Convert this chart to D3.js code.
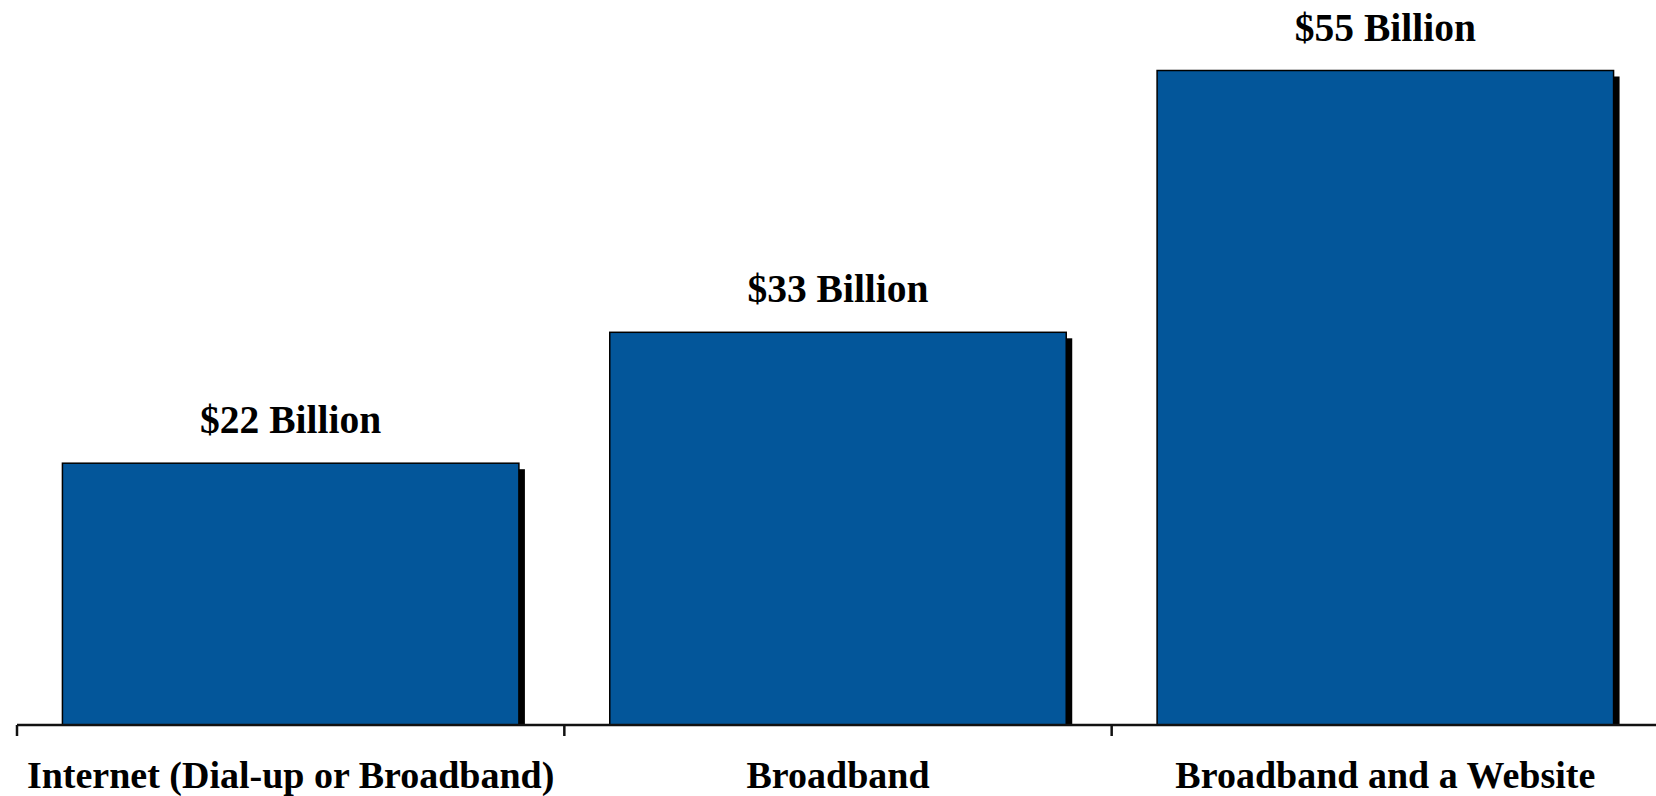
<!DOCTYPE html>
<html>
<head>
<meta charset="utf-8">
<script src="https://cdn.jsdelivr.net/npm/d3@7"></script>
<style>
  html, body { margin: 0; padding: 0; background: #ffffff; }
  svg { display: block; }
</style>
</head>
<body>
<svg id="chart" width="1656" height="796"></svg>
<script>
const categories = ["Internet (Dial-up or Broadband)", "Broadband", "Broadband and a Website"];
const values = [22, 33, 55];
const valueLabels = ["$22 Billion", "$33 Billion", "$55 Billion"];
const yDomain = [0, 60];

const W = 1656, H = 796;
const plot = { left: 17, right: 1659, top: 11, bottom: 725 };

const svg = d3.select("#chart");

const x = d3.scaleBand()
  .domain(categories)
  .range([plot.left, plot.right])
  .paddingInner(0.166)
  .paddingOuter(0.083);

const y = d3.scaleLinear().domain(yDomain).range([plot.bottom, plot.top]);

const font = "'Liberation Serif', 'Times New Roman', serif";
const barColor = "#03569A";
const shadow = 6;

// shadows
svg.append("g").selectAll("rect")
  .data(values)
  .join("rect")
  .attr("x", (d, i) => x(categories[i]) + shadow)
  .attr("y", d => y(d) + shadow)
  .attr("width", x.bandwidth())
  .attr("height", d => plot.bottom - y(d) - shadow)
  .attr("fill", "#000");

// bars
svg.append("g").selectAll("rect")
  .data(values)
  .join("rect")
  .attr("x", (d, i) => x(categories[i]))
  .attr("y", d => y(d))
  .attr("width", x.bandwidth())
  .attr("height", d => plot.bottom - y(d))
  .attr("fill", barColor)
  .attr("stroke", "#000")
  .attr("stroke-width", 1.5);

// axis line
svg.append("line")
  .attr("x1", plot.left).attr("x2", W)
  .attr("y1", plot.bottom).attr("y2", plot.bottom)
  .attr("stroke", "#111").attr("stroke-width", 2.5);

// ticks at category boundaries
const bounds = categories.map((c, i) => plot.left + i * x.step());
svg.append("g").selectAll("line")
  .data(bounds)
  .join("line")
  .attr("x1", d => d).attr("x2", d => d)
  .attr("y1", plot.bottom).attr("y2", plot.bottom + 11)
  .attr("stroke", "#111").attr("stroke-width", 2.5);

// value labels
svg.append("g").selectAll("text")
  .data(values)
  .join("text")
  .attr("x", (d, i) => x(categories[i]) + x.bandwidth() / 2)
  .attr("y", d => y(d) - 30)
  .attr("text-anchor", "middle")
  .attr("font-family", font)
  .attr("font-weight", "bold")
  .attr("font-size", 39.5)
  .attr("fill", "#000")
  .text((d, i) => valueLabels[i]);

// category labels
svg.append("g").selectAll("text")
  .data(categories)
  .join("text")
  .attr("x", d => x(d) + x.bandwidth() / 2)
  .attr("y", 788)
  .attr("text-anchor", "middle")
  .attr("font-family", font)
  .attr("font-weight", "bold")
  .attr("font-size", 38)
  .attr("fill", "#000")
  .text(d => d);
</script>
</body>
</html>
